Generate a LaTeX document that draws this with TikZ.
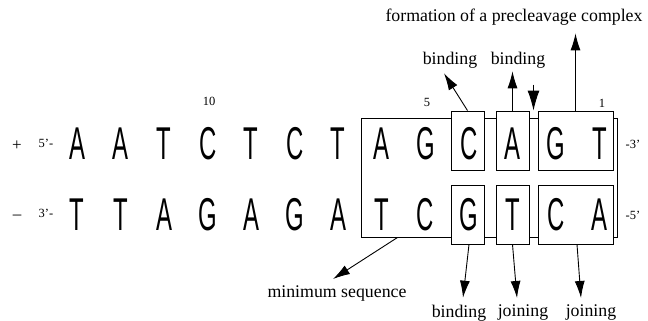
\documentclass[tikz,border=0pt]{standalone}
\usepackage{fontspec}
\setmainfont{Liberation Serif}
\newfontfamily\basefont[FakeStretch=0.52]{Liberation Sans}
\usetikzlibrary{arrows.meta,calc,positioning}
\tikzstyle{base}=[
  font={\basefont\fontsize{46}{46}\selectfont},
  inner sep=0pt,
]
\tikzstyle{seqbox}=[
  draw,
  fill=white,
  line width=.9pt,
  inner sep=0pt,
  minimum height=59pt,
]
\tikzstyle{arrow}=[
  line width=.9pt,
  -{Latex[length=17pt,width=10pt]},
]
\tikzstyle{arrowlabel}=[
  font={\fontsize{17.8}{18}\selectfont},
  inner sep=0pt,
]
\tikzstyle{endlabel}=[
  font={\fontsize{12.5}{13}\selectfont},
  inner sep=0pt,
]
\begin{document}
\begin{tikzpicture}[x=1pt,y=-1pt]
      \useasboundingbox (0,0) rectangle (648,321);
      %% boxes
      \node (bigbox) [seqbox, minimum width=256pt, minimum height=119pt] at (489,177.5) {};
      \node (cbox) [seqbox, minimum width=33pt] at (467.5,140.5) {};
      \node (gbox) [seqbox, minimum width=33pt] at (467.5,214.5) {};
      \node (abox) [seqbox, minimum width=33pt] at (512.5,140.5) {};
      \node (tbox) [seqbox, minimum width=33pt] at (512.5,214.5) {};
      \node (gtbox) [seqbox, minimum width=75pt] at (575.5,140.5) {};
      \node (cabox) [seqbox, minimum width=75pt] at (575.5,214.5) {};
      %% strands
      \foreach \b [count=\i] in {A,A,T,C,T,C,T,A,G,C,A,G,T}
        \node (top\i) [base] at ({77+43.55*(\i-1)},143.5) {\b};
      \foreach \b [count=\i] in {T,T,A,G,A,G,A,T,C,G,T,C,A}
        \node (bot\i) [base] at ({77+43.55*(\i-1)},215) {\b};
      \node (plus) [endlabel, font=\fontsize{17}{17}\selectfont] at (17,146) {+};
      \node (minus) [endlabel, font=\fontsize{17}{17}\selectfont] at (17,217) {--};
      \node (fivel) [endlabel] at (46,143) {5'-};
      \node (threel) [endlabel] at (46,213) {3'-};
      \node (threer) [endlabel] at (633,144) {-3'};
      \node (fiver) [endlabel] at (633,215) {-5'};
      \node (pos10) [endlabel] at (209,101) {10};
      \node (pos5) [endlabel] at (427,102) {5};
      \node (pos1) [endlabel] at (602,103) {1};
      %% labels
      \node (formation) [arrowlabel] at (514,17) {formation of a precleavage complex};
      \node (bindc) [arrowlabel] at (450,60) {binding};
      \node (binda) [arrowlabel] at (518,60) {binding};
      \node (minseq) [arrowlabel] at (337,293) {minimum sequence};
      \node (bindg) [arrowlabel] at (459,313) {binding};
      \node (joint) [arrowlabel] at (523,313) {joining};
      \node (joinca) [arrowlabel] at (591,313) {joining};
      %% arrows
      \draw [arrow] (cbox.north) -- ($(bindc.south)+(-6,5)$);
      \draw [arrow, shorten >=3pt] (abox.north) -- (abox.north |- binda.south);
      \draw [arrow, shorten >=8pt] (gtbox.north) -- (gtbox.north |- formation.south);
      \coordinate (site) at ($(abox.north east)!.5!(gtbox.north west)$);
      \coordinate (cleave) at ($(site)+(0,-26)$);
      \draw [line width=.9pt, -{Latex[length=20pt,width=12pt]}] (cleave) -- (site);
      \draw [arrow] ($(bigbox.south west)+(37,0)$) -- ($(minseq.north)+(-4,-6)$);
      \draw [arrow] ($(gbox.south)+(1.5,0)$) -- ($(bindg.north)+(4,-7)$);
      \draw [arrow] (tbox.south) -- ($(joint.north)+(-6,-7)$);
      \draw [arrow] ($(cabox.south)+(1.5,0)$) -- ($(joinca.north)+(-10,-7)$);
\end{tikzpicture}
\end{document}
